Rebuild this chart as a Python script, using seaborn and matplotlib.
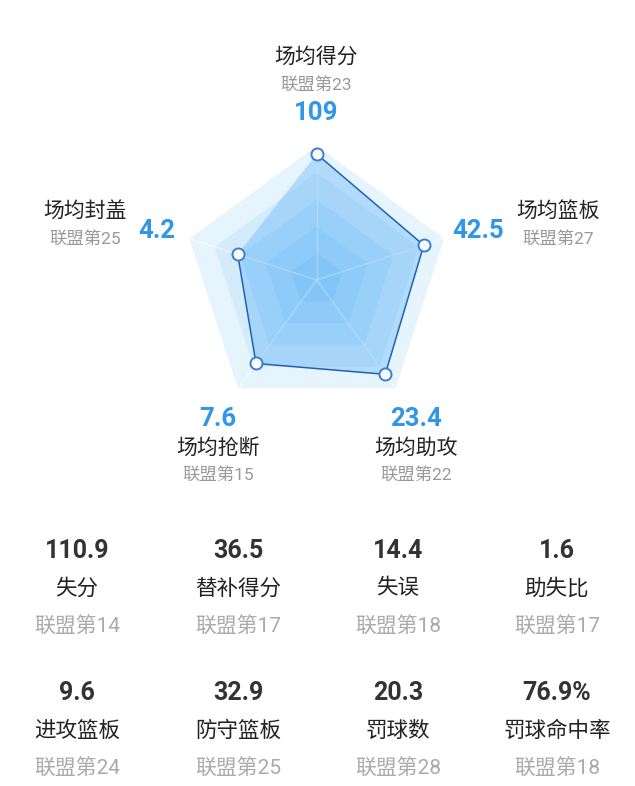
import numpy as np
import seaborn as sns
import matplotlib
matplotlib.use('Agg')
import matplotlib.pyplot as plt

# 雷达图数据
radar_labels = ['场均得分', '场均篮板', '场均助攻', '场均抢断', '场均封盖']
radar_values = ['109', '42.5', '23.4', '7.6', '4.2']
radar_ranks = [23, 27, 22, 15, 25]
radar_scores = [0.94, 0.84, 0.87, 0.77, 0.62]

# 下方统计数据
grid_values = ['110.9', '36.5', '14.4', '1.6', '9.6', '32.9', '20.3', '76.9%']
grid_labels = ['失分', '替补得分', '失误', '助失比', '进攻篮板', '防守篮板', '罚球数', '罚球命中率']
grid_ranks = [14, 17, 18, 17, 24, 25, 28, 18]

sns.set_theme(style='white')
plt.rcParams['font.family'] = ['Roboto', 'Noto Sans CJK SC', 'DejaVu Sans']

W, H = 635, 786
fig = plt.figure(figsize=(W / 100, H / 100), dpi=100)
fig.patch.set_facecolor('white')

# 文字用的全图坐标轴（像素坐标）
bg = fig.add_axes([0, 0, 1, 1])
bg.set_xlim(0, W)
bg.set_ylim(H, 0)
bg.axis('off')

# 雷达图
cx, cy, R = 316.7, 280, 134
pax = fig.add_axes([(cx - R) / W, (H - cy - R) / H, 2 * R / W, 2 * R / H], polar=True)
pax.set_theta_offset(np.pi / 2)
pax.set_theta_direction(-1)
pax.axis('off')
pax.patch.set_alpha(0)

n = len(radar_labels)
theta = np.linspace(0, 2 * np.pi, n, endpoint=False)
theta_c = np.append(theta, theta[0])

ring_colors = ['#e6f4fe', '#d4ebfc', '#bde2fb', '#acdbfb', '#98d1f9']
for k, col in zip([1.0, 0.8, 0.6, 0.4, 0.2], ring_colors):
    pax.fill(theta_c, np.full(n + 1, k), color=col, lw=0, zorder=1)
for t in theta:
    pax.plot([t, t], [0, 1], color='white', lw=1, alpha=0.55, zorder=2)

scores_c = np.append(radar_scores, radar_scores[0])
pax.fill(theta_c, scores_c, color='#64b5f6', alpha=0.4, lw=0, zorder=3)
sns.lineplot(x=theta_c, y=scores_c, ax=pax, sort=False, color='#1f62b4', lw=1.1, zorder=4)
sns.scatterplot(x=theta, y=radar_scores, ax=pax, s=75, color='white',
                edgecolor='#3a7fcf', linewidth=1.4, zorder=5)
pax.set_ylim(0, 1)

blue = '#3096e8'
black = '#222222'
grey = '#999999'

# 雷达图标签：名称位置、排名位置、数值位置
pos = [
    ((316, 57), (316, 85), (316, 113)),
    ((558, 211), (558, 239), (478, 231)),
    ((416, 448), (416, 475), (416, 419)),
    ((218, 448), (218, 475), (218, 419)),
    ((85, 211), (85, 239), (157, 231)),
]
for lab, val, rk, (pl, pr, pv) in zip(radar_labels, radar_values, radar_ranks, pos):
    bg.text(*pl, lab, ha='center', va='center', fontsize=15, color=black)
    bg.text(*pr, f'联盟第{rk}', ha='center', va='center', fontsize=12.5, color=grey)
    bg.text(*pv, val, ha='center', va='center', fontsize=18.5, color=blue, fontweight='bold')

# 下方统计网格
col_x = [77, 238, 398, 557]
row_y = [551, 693]
for i, (v, lab, rk) in enumerate(zip(grid_values, grid_labels, grid_ranks)):
    x = col_x[i % 4]
    y = row_y[i // 4]
    bg.text(x, y, v, ha='center', va='center', fontsize=18, color='#333333', fontweight='bold')
    bg.text(x, y + 38, lab, ha='center', va='center', fontsize=15.5, color=black)
    bg.text(x, y + 76, f'联盟第{rk}', ha='center', va='center', fontsize=15, color='#aaaaaa')

fig.savefig('out.png', dpi=100, facecolor='white')
